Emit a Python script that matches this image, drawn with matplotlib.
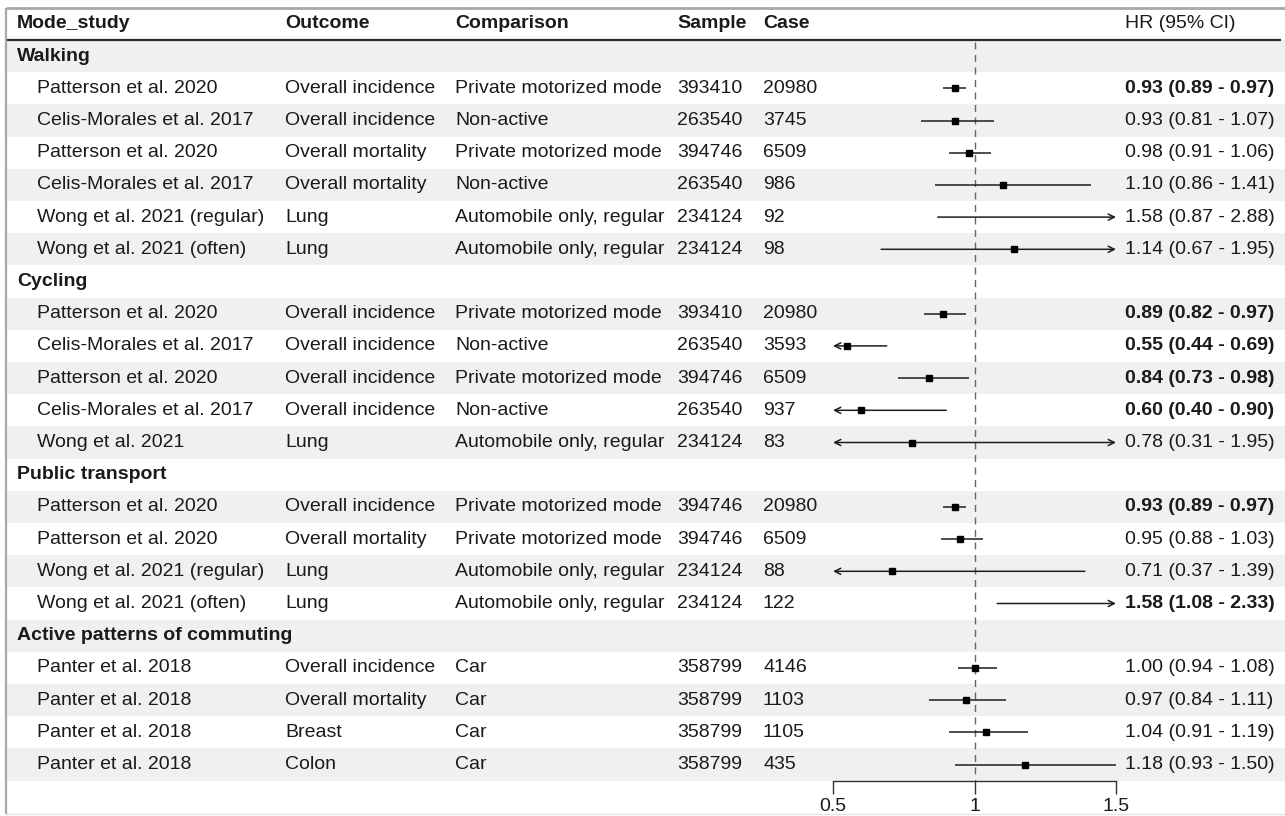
import matplotlib
matplotlib.use("Agg")
import matplotlib.pyplot as plt
from matplotlib import font_manager
from matplotlib.patches import Rectangle

# ---------------- data ----------------
groups = ["Walking", "Cycling", "Public transport", "Active patterns of commuting"]
group_of = ["Walking"] * 6 + ["Cycling"] * 5 + ["Public transport"] * 4 + ["Active patterns of commuting"] * 4
studies = [
    "Patterson et al. 2020", "Celis-Morales et al. 2017", "Patterson et al. 2020",
    "Celis-Morales et al. 2017", "Wong et al. 2021 (regular)", "Wong et al. 2021 (often)",
    "Patterson et al. 2020", "Celis-Morales et al. 2017", "Patterson et al. 2020",
    "Celis-Morales et al. 2017", "Wong et al. 2021",
    "Patterson et al. 2020", "Patterson et al. 2020", "Wong et al. 2021 (regular)",
    "Wong et al. 2021 (often)",
    "Panter et al. 2018", "Panter et al. 2018", "Panter et al. 2018", "Panter et al. 2018",
]
outcomes = [
    "Overall incidence", "Overall incidence", "Overall mortality", "Overall mortality", "Lung", "Lung",
    "Overall incidence", "Overall incidence", "Overall incidence", "Overall incidence", "Lung",
    "Overall incidence", "Overall mortality", "Lung", "Lung",
    "Overall incidence", "Overall mortality", "Breast", "Colon",
]
comparisons = [
    "Private motorized mode", "Non-active", "Private motorized mode", "Non-active",
    "Automobile only, regular", "Automobile only, regular",
    "Private motorized mode", "Non-active", "Private motorized mode", "Non-active",
    "Automobile only, regular",
    "Private motorized mode", "Private motorized mode", "Automobile only, regular",
    "Automobile only, regular",
    "Car", "Car", "Car", "Car",
]
samples = [393410, 263540, 394746, 263540, 234124, 234124,
           393410, 263540, 394746, 263540, 234124,
           394746, 394746, 234124, 234124,
           358799, 358799, 358799, 358799]
cases = [20980, 3745, 6509, 986, 92, 98,
         20980, 3593, 6509, 937, 83,
         20980, 6509, 88, 122,
         4146, 1103, 1105, 435]
hr = [0.93, 0.93, 0.98, 1.10, 1.58, 1.14,
      0.89, 0.55, 0.84, 0.60, 0.78,
      0.93, 0.95, 0.71, 1.58,
      1.00, 0.97, 1.04, 1.18]
lo = [0.89, 0.81, 0.91, 0.86, 0.87, 0.67,
      0.82, 0.44, 0.73, 0.40, 0.31,
      0.89, 0.88, 0.37, 1.08,
      0.94, 0.84, 0.91, 0.93]
hi = [0.97, 1.07, 1.06, 1.41, 2.88, 1.95,
      0.97, 0.69, 0.98, 0.90, 1.95,
      0.97, 1.03, 1.39, 2.33,
      1.08, 1.11, 1.19, 1.50]
headers = ["Mode_study", "Outcome", "Comparison", "Sample", "Case", "HR (95% CI)"]
xticks = [0.5, 1, 1.5]
xtick_labels = ["0.5", "1", "1.5"]

# ---------------- font ----------------
try:
    font_manager.findfont(font_manager.FontProperties(family="Liberation Sans Narrow"),
                          fallback_to_default=False)
    FAMILY = ["Liberation Sans Narrow", "DejaVu Sans"]
    FS = 16.8
except Exception:
    FAMILY = ["Liberation Sans", "DejaVu Sans"]
    FS = 14
plt.rcParams["font.family"] = FAMILY

# ---------------- layout ----------------
W, H = 1285, 816
TXT = "#1a1a1a"
BAND = "#f0f0f0"
col_x = [17, 285, 455, 677, 763, 1125]
indent = 37
TOP = 40.0
RH = 32.2

rows = []
for g in groups:
    rows.append(("group", g, None))
    for i, gg in enumerate(group_of):
        if gg == g:
            rows.append(("study", g, i))
n = len(rows)
BOT = TOP + RH * n

fig = plt.figure(figsize=(W / 100, H / 100), dpi=100)
tab = fig.add_axes([0, 0, 1, 1])
tab.set_xlim(0, W)
tab.set_ylim(H, 0)
tab.axis("off")

# frame (screenshot border)
tab.plot([6, W], [8, 8], color="#a8a8a8", lw=2.0, solid_capstyle="butt")
tab.plot([6, 6], [8, H - 2], color="#a8a8a8", lw=1.6, solid_capstyle="butt")
tab.plot([6, W], [H - 2, H - 2], color="#e4e4e4", lw=1.0)

# row bands
for r in range(n):
    y0 = TOP + RH * r
    if r % 2 == 0:
        tab.add_patch(Rectangle((7, y0), W - 7, RH, facecolor=BAND, edgecolor="none", zorder=0))

# header
hy = 24
for k, (x, h) in enumerate(zip(col_x, headers)):
    tab.text(x, hy, h, fontsize=FS, fontweight="normal" if k == 5 else "bold",
             color=TXT, va="center", ha="left")
tab.plot([7, W - 4], [TOP, TOP], color="#2a2a2a", lw=1.6, solid_capstyle="butt")

# table text
for r, (kind, g, i) in enumerate(rows):
    yc = TOP + RH * (r + 0.5)
    if kind == "group":
        tab.text(col_x[0], yc, g, fontsize=FS, fontweight="bold", color=TXT, va="center")
        continue
    sig = hi[i] < 1 or lo[i] > 1
    tab.text(indent, yc, studies[i], fontsize=FS, color=TXT, va="center")
    tab.text(col_x[1], yc, outcomes[i], fontsize=FS, color=TXT, va="center")
    tab.text(col_x[2], yc, comparisons[i], fontsize=FS, color=TXT, va="center")
    tab.text(col_x[3], yc, str(samples[i]), fontsize=FS, color=TXT, va="center")
    tab.text(col_x[4], yc, str(cases[i]), fontsize=FS, color=TXT, va="center")
    tab.text(col_x[5], yc, f"{hr[i]:.2f} ({lo[i]:.2f} - {hi[i]:.2f})", fontsize=FS,
             color=TXT, va="center", fontweight="bold" if sig else "normal")

# ---------------- forest panel ----------------
FX0, FX1 = 833, 1116
fax = fig.add_axes([FX0 / W, (H - BOT) / H, (FX1 - FX0) / W, (BOT - TOP) / H])
fax.patch.set_alpha(0)
XMIN, XMAX = 0.5, 1.5
fax.set_xlim(XMIN, XMAX)
fax.set_ylim(BOT, TOP)
for s in ["top", "left", "right"]:
    fax.spines[s].set_visible(False)
fax.spines["bottom"].set_color("#333333")
fax.spines["bottom"].set_linewidth(1.0)
fax.set_yticks([])
fax.set_xticks(xticks)
fax.set_xticklabels(xtick_labels)
fax.tick_params(axis="x", direction="out", length=9.5, width=1.0, color="#333333",
                labelsize=FS, labelcolor=TXT, pad=3)

fax.plot([1, 1], [TOP + 2, BOT], color="#666666", lw=1.0, dashes=(5, 4), zorder=1)

LC = "#1e1e1e"
for r, (kind, g, i) in enumerate(rows):
    if kind != "study":
        continue
    yc = TOP + RH * (r + 0.5)
    a = max(lo[i], XMIN)
    b = min(hi[i], XMAX)
    left_clip = lo[i] < XMIN
    right_clip = hi[i] > XMAX
    if left_clip and right_clip:
        style = "<->"
    elif left_clip:
        style = "<-"
    elif right_clip:
        style = "->"
    else:
        style = None
    if style is None:
        fax.plot([a, b], [yc, yc], color=LC, lw=1.1, solid_capstyle="butt", zorder=2)
    else:
        fax.annotate("", xy=(b, yc), xytext=(a, yc), annotation_clip=False,
                     arrowprops=dict(arrowstyle=style, color=LC, lw=1.1,
                                     shrinkA=0, shrinkB=0, mutation_scale=11))
    if XMIN <= hr[i] <= XMAX:
        fax.plot([hr[i]], [yc], marker="s", ms=4.8, color="black", mec="black", zorder=3,
                 clip_on=False)

fig.savefig("out.png", dpi=100)
